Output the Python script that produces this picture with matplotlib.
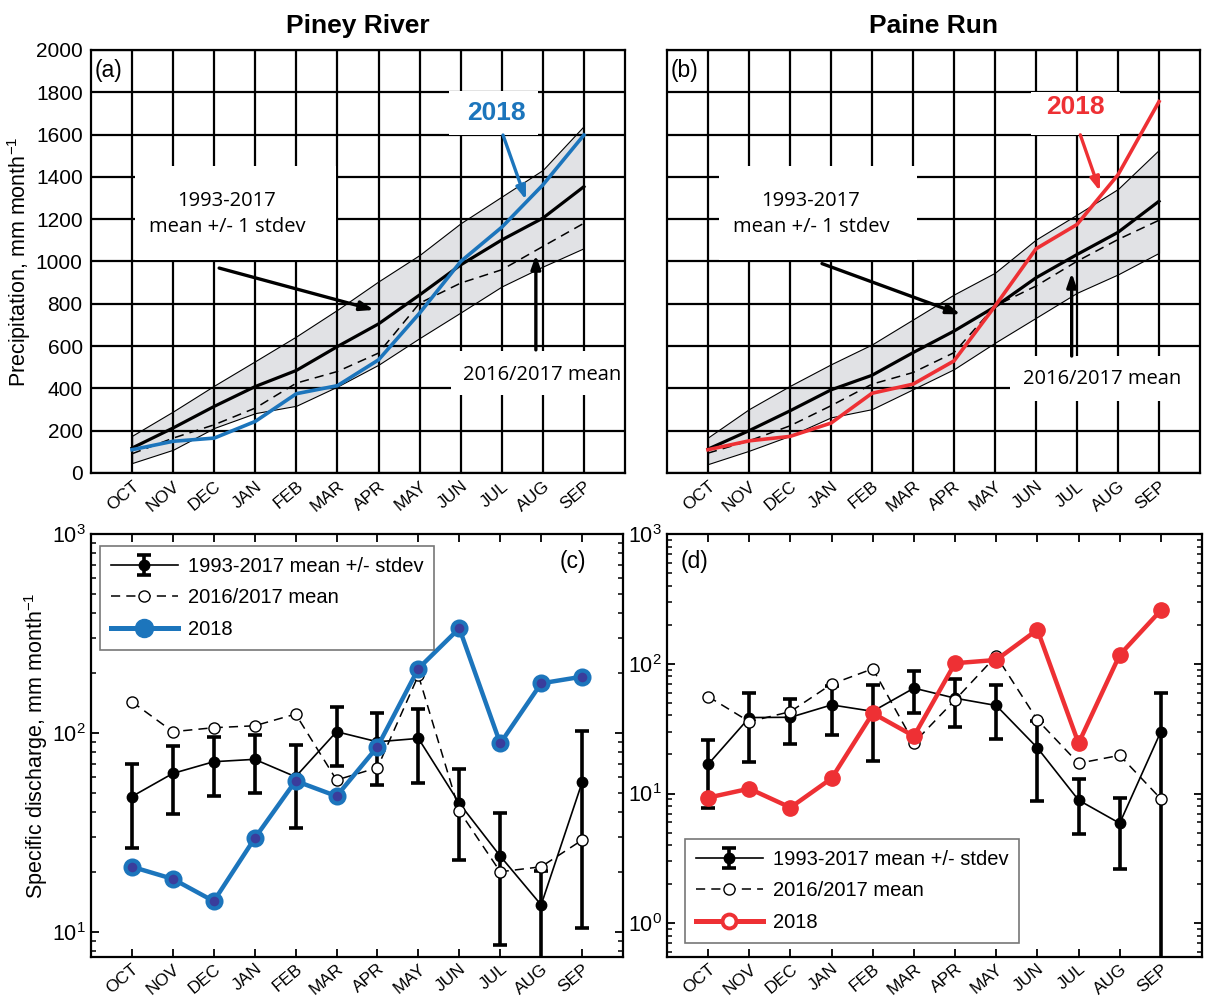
import matplotlib
matplotlib.use('Agg')
import matplotlib.pyplot as plt
import numpy as np
from matplotlib.patches import Rectangle
from matplotlib.lines import Line2D

# ---------------- data ----------------
months = ['OCT', 'NOV', 'DEC', 'JAN', 'FEB', 'MAR', 'APR', 'MAY', 'JUN', 'JUL', 'AUG', 'SEP']

# cumulative precipitation (mm)
piney_p_mean = [118, 213, 315, 409, 485, 598, 705, 842, 984, 1102, 1205, 1354]
piney_p_upper = [176, 291, 413, 529, 646, 772, 906, 1031, 1181, 1307, 1433, 1641]
piney_p_lower = [47, 110, 213, 283, 318, 409, 512, 638, 759, 882, 976, 1063]
piney_p_1617 = [91, 165, 228, 307, 425, 480, 567, 803, 898, 961, 1071, 1181]
piney_p_2018 = [110, 150, 165, 244, 375, 413, 535, 756, 1000, 1162, 1362, 1598]

paine_p_mean = [113, 200, 294, 393, 462, 569, 671, 786, 923, 1033, 1138, 1285]
paine_p_upper = [168, 302, 412, 514, 608, 726, 844, 947, 1104, 1222, 1343, 1528]
paine_p_lower = [42, 105, 176, 263, 302, 396, 491, 616, 734, 852, 939, 1041]
paine_p_1617 = [94, 152, 223, 318, 420, 475, 569, 789, 884, 1001, 1104, 1195]
paine_p_2018 = [110, 152, 173, 236, 377, 420, 530, 789, 1060, 1175, 1410, 1756]

# specific discharge (mm/month)
piney_q_mean = [48, 62.7, 71.8, 73.8, 60.3, 101.6, 90.4, 94, 44.4, 24.1, 13.7, 56.5]
piney_q_std = [21.6, 23.3, 23.5, 23.8, 26.8, 33.2, 35.6, 37.6, 21.3, 15.5, 6.6, 46]
piney_q_1617 = [143.6, 101.6, 106.4, 108.8, 124.6, 58.1, 67, 195, 40.6, 20.1, 21.3, 29]
piney_q_2018 = [21.3, 18.5, 14.3, 29.6, 57.5, 48.2, 85.3, 211, 336, 88.7, 177.7, 192]

paine_q_mean = [16.8, 38.5, 38.7, 48.2, 43, 64.9, 54.3, 47.7, 22.5, 8.9, 5.9, 30]
paine_q_std = [9.1, 21, 14.5, 19.7, 25.3, 22.8, 22, 21.5, 13.7, 4, 3.3, 29.7]
paine_q_1617 = [55.9, 35.8, 42.8, 69.7, 91.5, 24.6, 52.7, 115, 36.9, 17.1, 19.7, 9.1]
paine_q_2018 = [9.3, 10.9, 7.8, 13.1, 41.6, 27.7, 101, 107, 183, 24.4, 117, 258]

precip_ticks = list(range(0, 2001, 200))
legend_labels = ['1993-2017 mean +/- stdev', '2016/2017 mean', '2018']

# ---------------- style ----------------
plt.rcParams['font.family'] = ['Liberation Sans', 'DejaVu Sans']
plt.rcParams['mathtext.fontset'] = 'custom'
plt.rcParams['mathtext.rm'] = 'Liberation Sans'
plt.rcParams['mathtext.it'] = 'Liberation Sans:italic'
plt.rcParams['axes.linewidth'] = 1.6

BLUE = '#1c75bc'
BLUE_C = '#3a3d9c'
RED = '#ee3034'
BAND = '#e1e2e5'
MONTH_FONT = ['Liberation Sans Narrow', 'Liberation Sans', 'DejaVu Sans']
ANNOT_FONT = ['Open Sans', 'Liberation Sans']

W, H = 1206, 998
fig = plt.figure(figsize=(W / 100, H / 100), dpi=100)


def fr(l, t, r, b):
    return [l / W, 1 - b / H, (r - l) / W, (b - t) / H]


axA = fig.add_axes(fr(91, 50, 625, 473))
axB = fig.add_axes(fr(667, 50, 1200, 473))
axC = fig.add_axes(fr(91, 534, 623, 957))
axD = fig.add_axes(fr(667, 534, 1202, 957))

x = np.arange(len(months))


def month_labels(ax, pad):
    ax.set_xticks(x)
    ax.set_xticklabels(months, rotation=40, ha='right', va='top',
                       rotation_mode='anchor', family=MONTH_FONT, fontsize=12.5)
    ax.tick_params(axis='x', pad=pad)
    ax.set_xlim(-1, 12)


def precip_panel(ax, mean, up, lo, p1617, p2018, col, letter, boxes, txt):
    ax.set_axisbelow(True)
    ax.grid(True, color='black', lw=1.6)
    ax.fill_between(x, lo, up, facecolor=BAND, edgecolor='black', lw=0.8, zorder=0.3)
    for (x0, x1, y0, y1) in boxes:
        ax.add_patch(Rectangle((x0, y0), x1 - x0, y1 - y0, facecolor='white',
                               edgecolor='none', zorder=0.8))
    ax.plot(x, mean, color='black', lw=2.3, zorder=2)
    ax.plot(x, p1617, color='black', lw=1.1, dashes=(6, 4), zorder=2)
    ax.plot(x, p2018, color=col, lw=2.6, zorder=2.2)
    ax.set_ylim(0, 2000)
    ax.set_yticks(precip_ticks)
    ax.tick_params(length=0, labelsize=15, pad=6)
    month_labels(ax, 4)
    ax.text(-0.92, 1905, letter, fontsize=16.5, va='center', ha='left', zorder=4)
    arrow = dict(arrowstyle='-|>,head_length=0.8,head_width=0.28', lw=2.4,
                 shrinkA=0, shrinkB=0)
    ax.text(txt['mean_xy'][0], txt['mean_xy'][1], '1993-2017\nmean +/- 1 stdev',
            ha='center', va='center', fontsize=14.5, linespacing=1.45,
            family=ANNOT_FONT, zorder=4)
    ax.annotate('', xy=txt['mean_arrow'][1], xytext=txt['mean_arrow'][0],
                arrowprops=dict(color='black', **arrow), zorder=4)
    ax.text(txt['y18_xy'][0], txt['y18_xy'][1], '2018', color=col, fontsize=19,
            fontweight='bold', ha='center', va='center', zorder=4)
    ax.annotate('', xy=txt['y18_arrow'][1], xytext=txt['y18_arrow'][0],
                arrowprops=dict(color=col, **arrow), zorder=4)
    ax.text(txt['y1617_xy'][0], txt['y1617_xy'][1], '2016/2017 mean',
            ha='center', va='center', fontsize=14.5,
            family=ANNOT_FONT, zorder=4, clip_on=False)
    ax.annotate('', xy=txt['y1617_arrow'][1], xytext=txt['y1617_arrow'][0],
                arrowprops=dict(color='black', **arrow), zorder=4)


precip_panel(axA, piney_p_mean, piney_p_upper, piney_p_lower, piney_p_1617, piney_p_2018,
             BLUE, '(a)',
             boxes=[(0.06, 4.96, 1009, 1450), (7.72, 9.87, 1598, 1808), (7.76, 12.2, 370, 575)],
             txt=dict(mean_xy=(2.31, 1225), mean_arrow=((2.12, 969), (5.89, 771)),
                      y18_xy=(8.88, 1702), y18_arrow=((9.03, 1598), (9.59, 1291)),
                      y1617_xy=(9.98, 463), y1617_arrow=((9.83, 582), (9.83, 1031))))
precip_panel(axB, paine_p_mean, paine_p_upper, paine_p_lower, paine_p_1617, paine_p_2018,
             RED, '(b)',
             boxes=[(0.28, 5.1, 1009, 1450), (7.88, 10.05, 1599, 1803), (7.37, 12.2, 341, 553)],
             txt=dict(mean_xy=(2.51, 1225), mean_arrow=((2.78, 990), (6.16, 750)),
                      y18_xy=(8.95, 1730), y18_arrow=((9.08, 1599), (9.56, 1332)),
                      y1617_xy=(9.61, 443), y1617_arrow=((8.87, 553), (8.87, 946))))
axB.set_yticklabels([])
axA.set_ylabel('Precipitation, mm month$^{-1}$', fontsize=15.5, labelpad=2)
axA.set_title('Piney River', fontsize=19, fontweight='bold', pad=12)
axB.set_title('Paine Run', fontsize=19, fontweight='bold', pad=12)


def discharge_panel(ax, mean, std, q1617, q2018, col, letter, letter_pos, ylim,
                    leg_loc, leg_anchor, blue_style):
    ax.set_yscale('log')
    eb = ax.errorbar(x, mean, yerr=std, color='black', lw=1.2, marker='o', ms=7.5,
                     mfc='black', mec='black', elinewidth=2.6, capsize=5, capthick=2.6,
                     zorder=2)
    l2, = ax.plot(x, q1617, color='black', lw=1.1, dashes=(6, 4), marker='o', ms=8,
                  mfc='white', mec='black', mew=1.0, zorder=2.1)
    if blue_style:
        ax.plot(x, q2018, color=col, lw=3.2, marker='o', ms=10, mfc=BLUE_C, mec=col,
                mew=3, zorder=3)
        h18 = Line2D([], [], color=col, lw=3.6, marker='o', ms=13, mfc=col, mec=col)
    else:
        ax.plot(x, q2018, color=col, lw=3.2, marker='o', ms=11, mfc=col, mec=col,
                zorder=3)
        h18 = Line2D([], [], color=col, lw=3.6, marker='o', ms=10, mfc='white', mec=col,
                     mew=2.8)
    ax.set_ylim(*ylim)
    ax.tick_params(which='both', direction='in', top=True, right=True, labelsize=15.5)
    ax.tick_params(which='major', length=6, width=1.3)
    ax.tick_params(which='minor', length=3.5, width=1.1)
    month_labels(ax, 3)
    ax.text(letter_pos[0], letter_pos[1], letter, transform=ax.transAxes, fontsize=16.5,
            ha='left', va='center')
    leg = ax.legend([eb, l2, h18], legend_labels, loc=leg_loc, bbox_to_anchor=leg_anchor,
                    borderaxespad=0, fontsize=14.5, frameon=True, fancybox=False,
                    edgecolor='#555555', handlelength=3.3, handletextpad=0.5,
                    labelspacing=0.62, borderpad=0.55)
    leg.get_frame().set_linewidth(1.2)


discharge_panel(axC, piney_q_mean, piney_q_std, piney_q_1617, piney_q_2018, BLUE, '(c)',
                (0.88, 0.935), (7.5, 1000), 'upper left', (0.017, 0.972), True)
discharge_panel(axD, paine_q_mean, paine_q_std, paine_q_1617, paine_q_2018, RED, '(d)',
                (0.025, 0.935), (0.55, 1000), 'lower left', (0.034, 0.033), False)
axC.set_ylabel('Specific discharge, mm month$^{-1}$', fontsize=15.5, labelpad=2)

fig.savefig('out.png', dpi=100)
